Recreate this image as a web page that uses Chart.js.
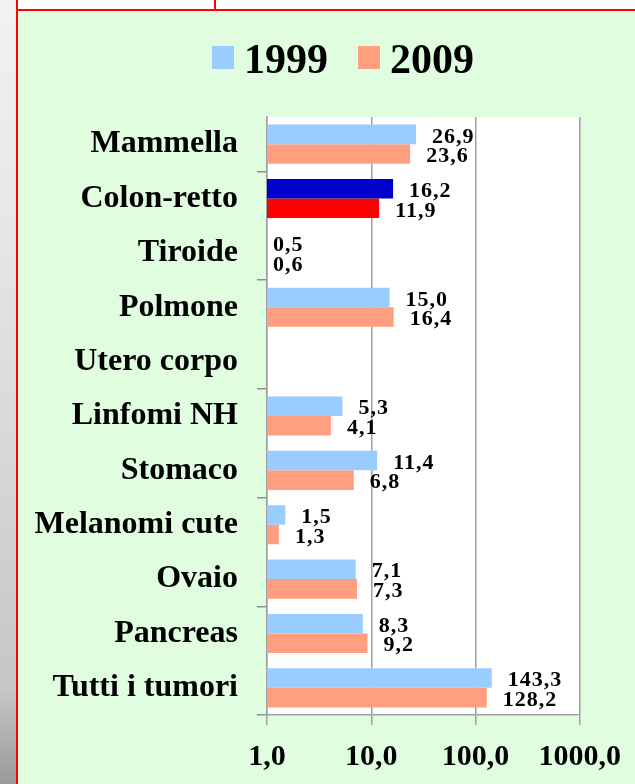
<!DOCTYPE html>
<html>
<head>
<meta charset="utf-8">
<script src="https://cdn.jsdelivr.net/npm/chart.js@4.4.1/dist/chart.umd.min.js"></script>
<style>
  html, body { margin: 0; padding: 0; width: 635px; height: 784px; overflow: hidden; background: #ffffff; }
  #strip { position: absolute; left: 0; top: 0; width: 16px; height: 784px;
    background: linear-gradient(to bottom, #f2f2f2 0%, #e6e6e6 30%, #d6d6d6 60%, #c6c6c6 88%, #9a9a9a 100%); }
  #topbox { position: absolute; left: 16px; top: 0; width: 640px; height: 9px; background: #fff;
    border-bottom: 2px solid #ff0000; }
  #divider { position: absolute; left: 214px; top: 0; width: 2px; height: 10px; background: #ff0000; }
  #frame { position: absolute; left: 16px; top: 0; width: 2px; height: 784px; background: #ff0000; }
  #wrap { position: absolute; left: 18px; top: 11px; width: 617px; height: 773px; background: #e0fde0; }
  canvas { display: block; }
</style>
</head>
<body>
<div id="strip"></div>
<div id="topbox"></div>
<div id="divider"></div>
<div id="frame"></div>
<div id="wrap"><canvas id="chart" width="617" height="773"></canvas></div>
<script>
// categories and values
const categories = ['Mammella', 'Colon-retto', 'Tiroide', 'Polmone', 'Utero corpo', 'Linfomi NH',
  'Stomaco', 'Melanomi cute', 'Ovaio', 'Pancreas', 'Tutti i tumori'];
const values1999 = [26.9, 16.2, 0.5, 15.0, null, 5.3, 11.4, 1.5, 7.1, 8.3, 143.3];
const values2009 = [23.6, 11.9, 0.6, 16.4, null, 4.1, 6.8, 1.3, 7.3, 9.2, 128.2];
const seriesNames = ['1999', '2009'];
const xTicks = [1, 10, 100, 1000];
const highlight = 'Colon-retto';

const serif = "'Liberation Serif', 'Times New Roman', serif";
const fmt = v => v.toFixed(1).replace('.', ',');

const col1999 = categories.map(c => c === highlight ? '#0000cc' : '#99ccff');
const col2009 = categories.map(c => c === highlight ? '#ff0000' : '#ff9f80');

// white plot area
const plotBg = {
  id: 'plotBg',
  beforeDraw(chart) {
    const { ctx, chartArea: a } = chart;
    ctx.save();
    ctx.fillStyle = '#ffffff';
    ctx.fillRect(a.left, a.top, a.right - a.left, a.bottom - a.top);
    ctx.restore();
  }
};

// value labels at the end of each bar
const valueLabels = {
  id: 'valueLabels',
  afterDatasetsDraw(chart) {
    const { ctx, chartArea: a } = chart;
    const xs = chart.scales.x;
    ctx.save();
    ctx.font = 'bold 22px ' + serif;
    ctx.letterSpacing = '1px';
    ctx.fillStyle = '#000';
    ctx.textAlign = 'left';
    ctx.textBaseline = 'middle';
    chart.data.datasets.forEach((ds, di) => {
      const meta = chart.getDatasetMeta(di);
      meta.data.forEach((bar, i) => {
        const v = ds.data[i];
        if (v == null) return;
        const x = v < xs.min ? a.left + 6 : bar.x + 16;
        ctx.fillText(fmt(v), x, bar.y + 2.5);
      });
    });
    ctx.restore();
  }
};

// legend drawn by hand to get the tight spacing
const topLegend = {
  id: 'topLegend',
  afterDraw(chart) {
    const { ctx } = chart;
    ctx.save();
    ctx.font = 'bold 42px ' + serif;
    ctx.textBaseline = 'alphabetic';
    let x = 194;
    const legendColors = ['#99ccff', '#ff9f80'];
    chart.data.datasets.forEach((ds, i) => {
      ctx.fillStyle = legendColors[i];
      ctx.fillRect(x, 35, 22, 23);
      ctx.fillStyle = '#000';
      ctx.fillText(ds.label, x + 32, 62);
      x += 32 + ctx.measureText(ds.label).width + 30;
    });
    ctx.restore();
  }
};

new Chart(document.getElementById('chart'), {
  type: 'bar',
  data: {
    labels: categories,
    datasets: [
      { label: seriesNames[0], data: values1999, backgroundColor: col1999, clip: 0 },
      { label: seriesNames[1], data: values2009, backgroundColor: col2009, clip: 0 }
    ]
  },
  options: {
    indexAxis: 'y',
    responsive: false,
    animation: false,
    devicePixelRatio: 1,
    categoryPercentage: 0.72,
    barPercentage: 1,
    layout: { padding: { top: 106, right: 54, left: 0, bottom: 0 } },
    plugins: {
      legend: { display: false },
      tooltip: { enabled: false }
    },
    scales: {
      x: {
        type: 'logarithmic',
        min: 1,
        max: 1000,
        afterBuildTicks: scale => { scale.ticks = xTicks.map(v => ({ value: v, major: true })); },
        afterFit: scale => { scale.height = 69; },
        ticks: {
          autoSkip: false,
          maxRotation: 0,
          padding: 14,
          color: '#000',
          font: { family: serif, size: 30, weight: 'bold' },
          callback: v => fmt(v)
        },
        grid: { color: '#a0a0a0', lineWidth: 1.5, tickLength: 10 },
        border: { color: '#a0a0a0', width: 1.5 }
      },
      y: {
        afterFit: scale => { scale.width = 249; },
        ticks: {
          padding: 19,
          color: '#000',
          font: { family: serif, size: 32, weight: 'bold' }
        },
        grid: {
          drawOnChartArea: false,
          tickLength: 10,
          lineWidth: 1.5,
          color: c => (c.index === undefined || c.index % 2 === 1) ? '#909090' : 'rgba(0,0,0,0)'
        },
        border: { color: '#a0a0a0', width: 1.5 }
      }
    }
  },
  plugins: [plotBg, valueLabels, topLegend]
});
</script>
</body>
</html>
